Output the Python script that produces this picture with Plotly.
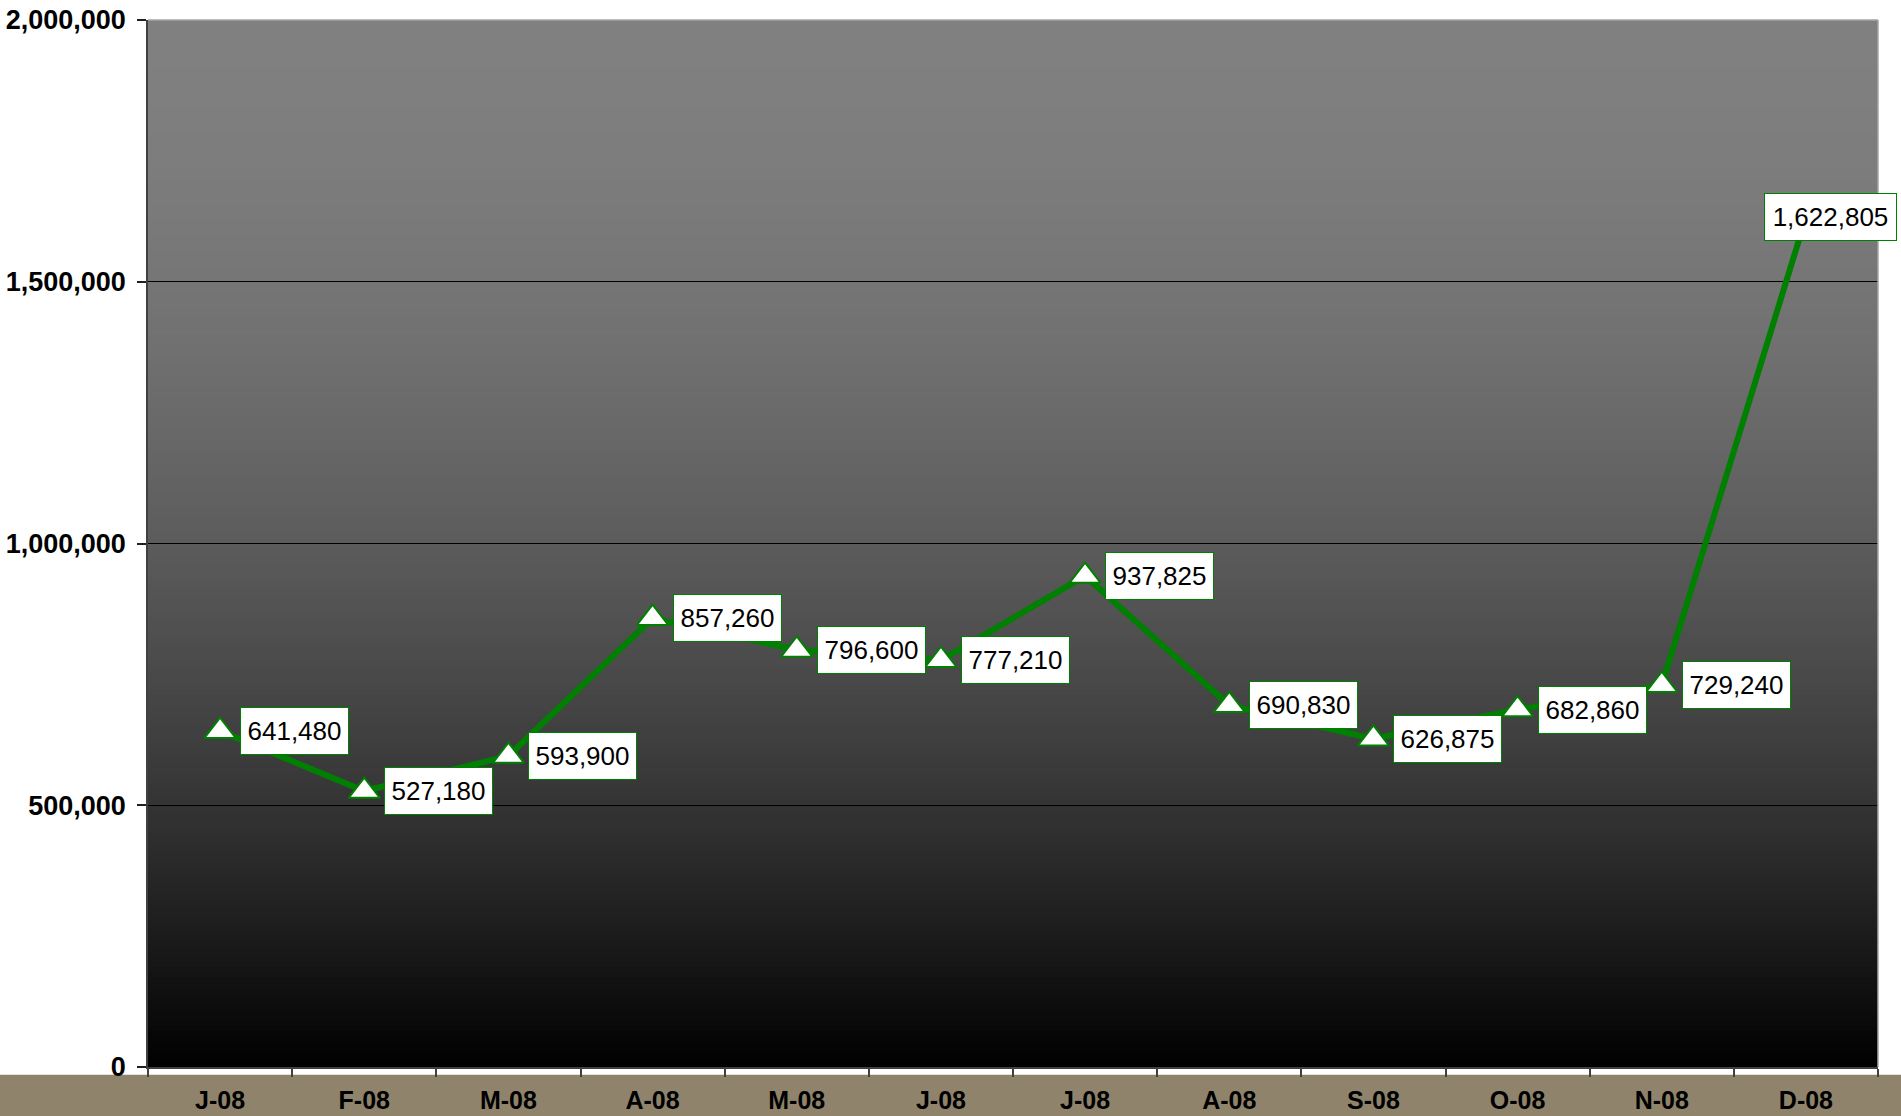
import plotly.graph_objects as go

# monthly totals for 2008
months = ["J-08", "F-08", "M-08", "A-08", "M-08", "J-08",
          "J-08", "A-08", "S-08", "O-08", "N-08", "D-08"]
totals = [641480, 527180, 593900, 857260, 796600, 777210,
          937825, 690830, 626875, 682860, 729240, 1622805]

y_ticks = [0, 500000, 1000000, 1500000, 2000000]

FONT = "Liberation Sans, Arial, sans-serif"
GREEN = "#008000"

x_pos = list(range(len(months)))

fig = go.Figure()

fig.add_trace(go.Scatter(
    x=x_pos,
    y=totals,
    mode="lines+markers",
    line=dict(color=GREEN, width=6),
    marker=dict(symbol="triangle-up", size=27, color="white",
                line=dict(color=GREEN, width=2)),
    hovertemplate="%{y:,}<extra></extra>",
    showlegend=False,
))

# value boxes to the right of each point (last one pulled back inside)
for i, v in enumerate(totals):
    last = i == len(totals) - 1
    fig.add_annotation(
        x=x_pos[i], y=v,
        text=f"{v:,}",
        showarrow=False,
        xanchor="left",
        xshift=-42 if last else 20,
        width=123 if last else 99,
        height=38,
        bgcolor="white",
        bordercolor=GREEN,
        borderwidth=1,
        borderpad=4,
        font=dict(family=FONT, size=26, color="black"),
    )

# vertical grey-to-black background built from overlapping strips
shapes = []
n_strips = 200
for k in range(n_strips):
    t = (k + 0.5) / n_strips  # 0 at top, 1 at bottom
    g = int(round(128 * (1 - t ** 1.8)))
    shapes.append(dict(
        type="rect", xref="x domain", yref="y domain",
        x0=0, x1=1, y0=max(0, 1 - (k + 2) / n_strips), y1=1 - k / n_strips,
        fillcolor=f"rgb({g},{g},{g})", line=dict(width=0), layer="below",
    ))

# tan band behind the month labels
shapes.append(dict(
    type="rect", xref="paper", yref="paper",
    x0=-0.5, x1=1.5, y0=-0.0075, y1=-0.08,
    fillcolor="#8f846b", line=dict(width=0), layer="below",
))
# light frame on top and right
shapes.append(dict(type="line", xref="x domain", yref="y domain",
                   x0=0, x1=1, y0=1, y1=1, line=dict(color="#a6a6a6", width=1.5),
                   layer="above"))
shapes.append(dict(type="line", xref="x domain", yref="y domain",
                   x0=1, x1=1, y0=0, y1=1, line=dict(color="#a6a6a6", width=1.5),
                   layer="above"))

fig.update_layout(
    width=1901,
    height=1116,
    margin=dict(l=148, r=23, t=20, b=49, autoexpand=False),
    paper_bgcolor="white",
    plot_bgcolor="rgba(0,0,0,0)",
    shapes=shapes,
    font=dict(family=FONT, color="black"),
)

fig.update_xaxes(
    automargin=False,
    range=[-0.5, len(months) - 0.5],
    tickvals=x_pos,
    ticktext=months,
    ticks="",
    showgrid=False,
    zeroline=False,
    showline=True,
    linecolor="#404040",
    linewidth=1.5,
    tickfont=dict(family=FONT, size=25, color="black", weight="bold"),
    ticklabelstandoff=10,
    minor=dict(tickvals=[p - 0.5 for p in x_pos] + [x_pos[-1] + 0.5],
               ticks="outside", ticklen=8, tickcolor="#404040", tickwidth=1.5,
               showgrid=False),
)

fig.update_yaxes(
    automargin=False,
    range=[0, 2000000],
    tickvals=y_ticks,
    tickformat=",",
    ticks="outside",
    ticklen=9,
    tickcolor="#202020",
    tickwidth=1.5,
    showgrid=True,
    gridcolor="black",
    gridwidth=1,
    zeroline=False,
    showline=True,
    linecolor="#404040",
    linewidth=1.5,
    tickfont=dict(family=FONT, size=27, color="black", weight="bold"),
    ticklabelstandoff=6,
)

# drop the page's default body margin so the figure sits at the window corner
fig.write_html("out.html", config={"displayModeBar": False},
               post_script="document.body.style.margin='0';")
